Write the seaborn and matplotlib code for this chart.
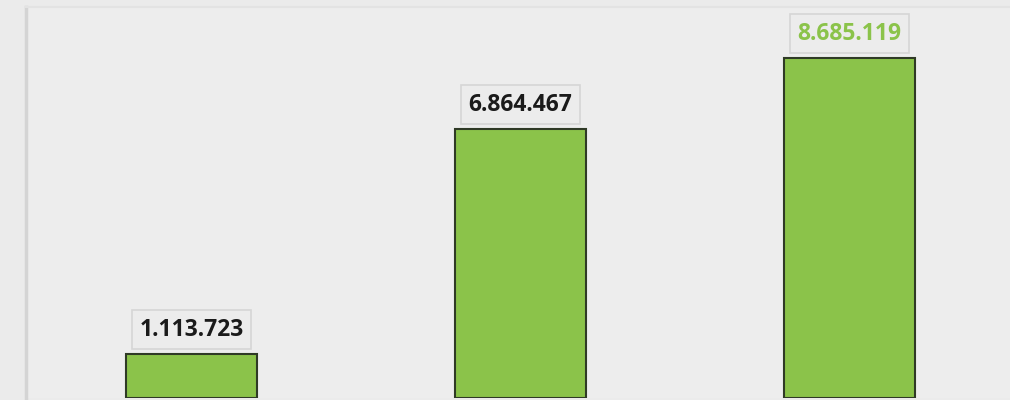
import seaborn as sns
import matplotlib.pyplot as plt
import pandas as pd

sns.set_theme(style="white")
plt.rcParams['font.family'] = ['Open Sans', 'DejaVu Sans']

# values
categories = ["Cat 1", "Cat 2", "Cat 3"]
values = [1113723, 6864467, 8685119]
labels = ["1.113.723", "6.864.467", "8.685.119"]
label_colors = ["#1a1a1a", "#1a1a1a", "#8bc34a"]

df = pd.DataFrame({"cat": categories, "val": values})

# small extra so the pixel size rounds to 1010x400
f = plt.figure(figsize=(10.104, 4.004), dpi=100, facecolor="#ebebeb")
# axes runs past the right edge of the picture
ax = f.add_axes([26 / 1010, 2 / 400, 1004 / 1010, 391 / 400])
ax.set_facecolor("#ededed")

sns.barplot(data=df, x="cat", y="val", color="#8bc34a", saturation=1,
            width=0.4, edgecolor="#2f3a26", linewidth=1.5, ax=ax)

# value labels in boxes
for i, (v, lab, c) in enumerate(zip(values, labels, label_colors)):
    ax.annotate(lab, (i, v), xytext=(0, 9), textcoords="offset points",
                ha="center", va="bottom", fontsize=16.5, fontweight="bold",
                color=c,
                bbox=dict(boxstyle="square,pad=0.33", fc="#ececec",
                          ec="#d6d6d6", lw=1.2))

ax.set_xlim(-0.503, 2.55)
ax.set_ylim(0, 10.0e6)
ax.set(xlabel="", ylabel="", xticks=[], yticks=[])
for s in ["right", "bottom"]:
    ax.spines[s].set_visible(False)
ax.spines["left"].set_color("#d4d4d4")
ax.spines["left"].set_linewidth(2.5)
ax.spines["top"].set_color("#e3e3e3")
ax.spines["top"].set_linewidth(1.5)

f.savefig("out.png", dpi=100, facecolor="#ebebeb")
